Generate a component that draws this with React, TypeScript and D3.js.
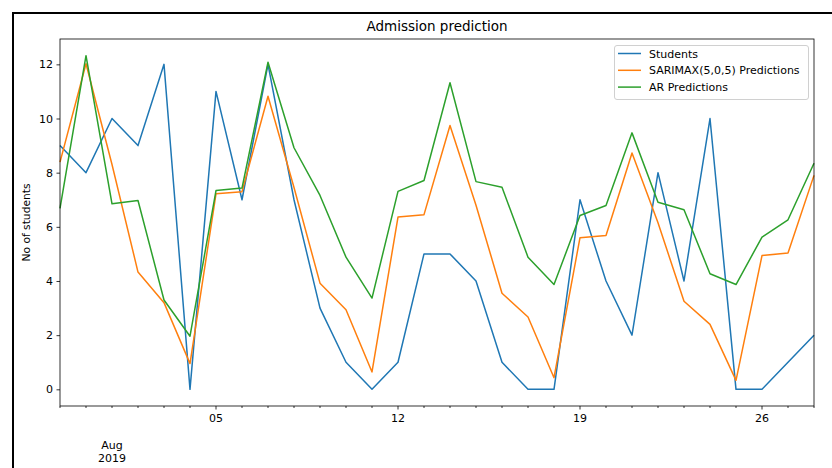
import React, { useEffect, useRef } from 'react';
import * as d3 from 'd3';

// daily values, 30 Jul 2019 .. 28 Aug 2019
const dates = d3.utcDay.range(new Date(Date.UTC(2019, 6, 30)), new Date(Date.UTC(2019, 7, 29)));

const students = [9, 8, 10, 9, 12, 0, 11, 7, 12, 7, 3, 1, 0, 1, 5, 5, 4, 1, 0, 0, 7, 4, 2, 8, 4, 10, 0, 0, 1, 2];

const sarimax = [
  8.39, 12.02, 8.3, 4.33, 3.2, 0.95, 7.22, 7.3, 10.82, 7.45, 3.92, 2.94, 0.64, 6.36, 6.45,
  9.74, 6.8, 3.55, 2.67, 0.43, 5.6, 5.68, 8.73, 6.15, 3.25, 2.4, 0.33, 4.94, 5.03, 7.9,
];

const arPred = [
  6.68, 12.32, 6.85, 6.97, 3.3, 1.96, 7.34, 7.43, 12.08, 8.92, 7.16, 4.88, 3.37, 7.31, 7.71,
  11.32, 7.67, 7.46, 4.88, 3.87, 6.42, 6.79, 9.47, 6.91, 6.63, 4.27, 3.87, 5.62, 6.26, 8.35,
];

const seriesNames = ['Students', 'SARIMAX(5,0,5) Predictions', 'AR Predictions'];
const colors = ['#1f77b4', '#ff7f0e', '#2ca02c'];
const yTicks = [0, 2, 4, 6, 8, 10, 12];

const App = () => {
  const ref = useRef<SVGSVGElement | null>(null);

  useEffect(() => {
    if (!ref.current) return;
    const W = 832;
    const H = 468;
    const margin = { top: 39, right: 18, bottom: 62, left: 60 };
    const font = 'DejaVu Sans, sans-serif';
    const fs = '11px';

    const svg = d3.select(ref.current);
    svg.selectAll('*').remove();

    svg.append('rect').attr('width', W).attr('height', H).attr('fill', '#fff');

    // screenshot frame (left + top)
    svg.append('path')
      .attr('d', `M13,${H} V13 H${W}`)
      .attr('fill', 'none')
      .attr('stroke', '#000')
      .attr('stroke-width', 2);

    const x = d3.scaleUtc()
      .domain([dates[0], dates[dates.length - 1]])
      .range([margin.left, W - margin.right]);

    const all = [...students, ...sarimax, ...arPred];
    const lo = d3.min(all) as number;
    const hi = d3.max(all) as number;
    const pad = (hi - lo) * 0.05;
    const y = d3.scaleLinear()
      .domain([lo - pad, hi + pad])
      .range([H - margin.bottom, margin.top]);

    const g = svg.append('g').style('font-family', font);

    // lines
    const line = d3.line<number>()
      .x((_, i) => x(dates[i]))
      .y(d => y(d));

    [students, sarimax, arPred].forEach((s, k) => {
      g.append('path')
        .datum(s)
        .attr('d', line)
        .attr('fill', 'none')
        .attr('stroke', colors[k])
        .attr('stroke-width', 1.5)
        .attr('stroke-linejoin', 'round');
    });

    // frame
    g.append('rect')
      .attr('x', margin.left)
      .attr('y', margin.top)
      .attr('width', W - margin.right - margin.left)
      .attr('height', H - margin.bottom - margin.top)
      .attr('fill', 'none')
      .attr('stroke', '#000')
      .attr('stroke-width', 0.8);

    // y axis
    const yAxis = g.append('g')
      .attr('transform', `translate(${margin.left},0)`)
      .call(d3.axisLeft(y).tickValues(yTicks).tickSize(3.5).tickPadding(3.5));
    yAxis.select('.domain').remove();
    yAxis.selectAll('text').style('font-size', fs).style('font-family', font).attr('fill', '#000');
    yAxis.selectAll('line').attr('stroke', '#000').attr('stroke-width', 0.8);

    // x axis: daily minor ticks, weekly labels
    const bottom = H - margin.bottom;
    const weekly = dates.filter(d => d.getUTCDay() === 1);
    const xAxis = g.append('g');
    xAxis.selectAll('.minor')
      .data(dates)
      .enter()
      .append('line')
      .attr('x1', d => x(d))
      .attr('x2', d => x(d))
      .attr('y1', bottom)
      .attr('y2', d => bottom + (d.getUTCDay() === 1 ? 3.5 : 2))
      .attr('stroke', '#000')
      .attr('stroke-width', 0.8);
    xAxis.selectAll('.lbl')
      .data(weekly)
      .enter()
      .append('text')
      .attr('x', d => x(d))
      .attr('y', bottom + 15.5)
      .attr('text-anchor', 'middle')
      .style('font-size', fs)
      .attr('fill', '#000')
      .text(d => d3.utcFormat('%d')(d));

    const monthStart = dates.find(d => d.getUTCDate() === 1) as Date;
    const mt = xAxis.append('text')
      .attr('x', x(monthStart))
      .attr('y', bottom + 43)
      .attr('text-anchor', 'middle')
      .style('font-size', fs)
      .attr('fill', '#000');
    mt.append('tspan').attr('x', x(monthStart)).text(d3.utcFormat('%b')(monthStart));
    mt.append('tspan').attr('x', x(monthStart)).attr('dy', 12.5).text(d3.utcFormat('%Y')(monthStart));

    // y label
    g.append('text')
      .attr('transform', `translate(30,${(margin.top + bottom) / 2}) rotate(-90)`)
      .attr('text-anchor', 'middle')
      .style('font-size', '10.7px')
      .attr('fill', '#000')
      .text('No of students');

    // title
    g.append('text')
      .attr('x', (margin.left + W - margin.right) / 2)
      .attr('y', 31)
      .attr('text-anchor', 'middle')
      .style('font-size', '13.5px')
      .attr('fill', '#000')
      .text('Admission prediction');

    // legend
    const lg = g.append('g').attr('transform', 'translate(614,45)');
    lg.append('rect')
      .attr('x', 0.5)
      .attr('y', 0.5)
      .attr('width', 194)
      .attr('height', 54)
      .attr('rx', 2.5)
      .attr('fill', '#fff')
      .attr('fill-opacity', 0.8)
      .attr('stroke', '#d0d0d0')
      .attr('stroke-width', 1);
    seriesNames.forEach((name, k) => {
      const cy = 8.5 + k * 16.8;
      lg.append('line')
        .attr('x1', 4)
        .attr('x2', 27)
        .attr('y1', cy)
        .attr('y2', cy)
        .attr('stroke', colors[k])
        .attr('stroke-width', 1.5);
      lg.append('text')
        .attr('x', 35)
        .attr('y', cy + 4)
        .style('font-size', fs)
        .attr('fill', '#000')
        .text(name);
    });
  }, []);

  return (
    <svg
      ref={ref}
      width={832}
      height={468}
      style={{ position: 'absolute', left: 0, top: 0, display: 'block' }}
    />
  );
};

export default App;
